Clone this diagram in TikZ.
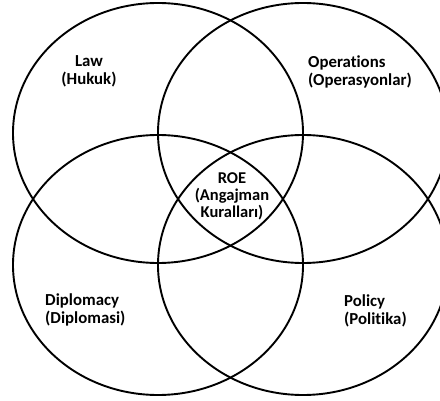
\documentclass[tikz,border=0pt]{standalone}
\usepackage{fontspec}
\setmainfont{Carlito}[Ligatures=CommonOff]
\usetikzlibrary{positioning}
\tikzset{set/.style={line width=1.9pt},
         lbl/.style={font=\bfseries\fontsize{16.8}{18}\selectfont,inner sep=0pt}}

\begin{document}
\begin{tikzpicture}[x=1pt,y=-1pt]
                   \useasboundingbox (0,0) rectangle (440,401);
                   \draw[set] (158,133) ellipse (145 and 130);
                   \draw[set] (303,133) ellipse (145 and 130);
                   \draw[set] (158,265) ellipse (145 and 130);
                   \draw[set] (303,265) ellipse (145 and 130);
                   \node[lbl,align=center] (law) at (89,71) {Law\\(Hukuk)};
                   \node[lbl,align=left,anchor=west] (ops) at (308,72) {Operations\\(Operasyonlar)};
                   \node[lbl,align=center,font=\bfseries\fontsize{16.5}{17}\selectfont] (roe) at (232,196) {ROE\\(Angajman\\Kuralları)};
                   \node[lbl,align=left,anchor=west] (dip) at (45,310) {Diplomacy\\(Diplomasi)};
                   \node[lbl,align=left,anchor=west] (pol) at (344,311) {Policy\\(Politika)};
                \end{tikzpicture}
\end{document}
